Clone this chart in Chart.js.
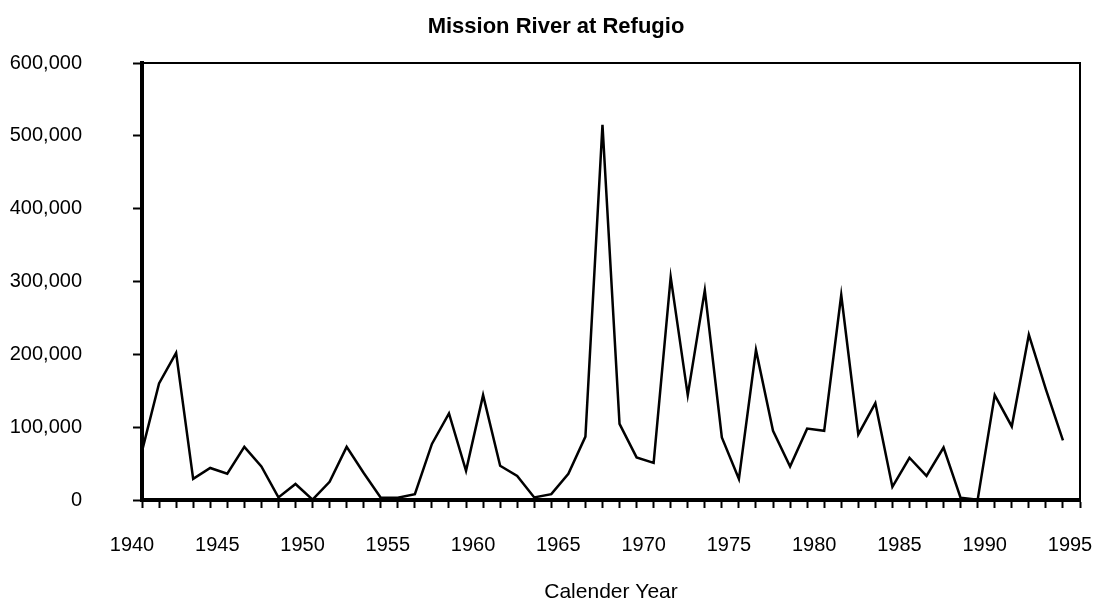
<!DOCTYPE html>
<html>
<head>
<meta charset="utf-8">
<script src="https://cdn.jsdelivr.net/npm/chart.js@4/dist/chart.umd.min.js"></script>
<style>
  html, body { margin: 0; padding: 0; background: #ffffff; }
  #wrap { width: 1100px; height: 609px; }
</style>
</head>
<body>
<div id="wrap"><canvas id="c" width="1100" height="609"></canvas></div>
<script>
// ---- data ----
const chartTitle = 'Mission River at Refugio';
const xAxisTitle = 'Calender Year';
const years = [
  1940, 1941, 1942, 1943, 1944, 1945, 1946, 1947, 1948, 1949,
  1950, 1951, 1952, 1953, 1954, 1955, 1956, 1957, 1958, 1959,
  1960, 1961, 1962, 1963, 1964, 1965, 1966, 1967, 1968, 1969,
  1970, 1971, 1972, 1973, 1974, 1975, 1976, 1977, 1978, 1979,
  1980, 1981, 1982, 1983, 1984, 1985, 1986, 1987, 1988, 1989,
  1990, 1991, 1992, 1993, 1994
];
const flows = [
  67000, 160000, 202000, 29000, 44000, 36000, 73000, 46000, 3500, 22000,
  500, 25000, 73000, 37000, 3000, 3000, 8000, 77000, 119000, 40000,
  144000, 47000, 33000, 3500, 8000, 36000, 87000, 515000, 104500, 58500,
  51000, 306000, 144000, 288000, 86000, 29000, 206000, 95000, 46000, 98000,
  95000, 281500, 90000, 133000, 18000, 58000, 33000, 72000, 3000, 500,
  144000, 101000, 227000, 152000, 82000
];
const xMin = 1940;
const xMax = 1995;
const xLabelEvery = 5;
const yMin = 0;
const yMax = 600000;
const yStep = 100000;

// ---- chart ----
const points = years.map((yr, i) => ({ x: yr, y: flows[i] }));
const FONT = "'Liberation Sans', Arial, sans-serif";

const frame = {
  id: 'frame',
  afterDraw(chart) {
    const { ctx, chartArea: a } = chart;
    ctx.save();
    ctx.strokeStyle = '#000';
    ctx.lineWidth = 2;
    ctx.beginPath();
    ctx.moveTo(a.left, a.top);
    ctx.lineTo(a.right, a.top);
    ctx.lineTo(a.right, a.bottom);
    ctx.stroke();
    ctx.restore();
  }
};

new Chart(document.getElementById('c'), {
  type: 'line',
  data: {
    datasets: [{
      data: points,
      borderColor: '#000',
      borderWidth: 2.5,
      pointRadius: 0,
      tension: 0,
      fill: false
    }]
  },
  options: {
    responsive: false,
    animation: false,
    devicePixelRatio: 1,
    layout: { padding: { left: 0, right: -12, top: 0, bottom: 0 } },
    plugins: {
      legend: { display: false },
      tooltip: { enabled: false },
      title: {
        display: true,
        text: chartTitle,
        color: '#000',
        font: { family: FONT, size: 22, weight: 'bold', lineHeight: 1.2 },
        padding: { top: 6, bottom: 23 }
      }
    },
    scales: {
      x: {
        type: 'linear',
        min: xMin,
        max: xMax,
        afterFit(s) { s.height = 109; s.paddingLeft = 0; s.paddingRight = 20; },
        border: { display: true, color: '#000', width: 4 },
        grid: { drawOnChartArea: false, drawTicks: true, tickLength: 8, tickWidth: 2, tickColor: '#000' },
        ticks: {
          stepSize: 1,
          autoSkip: false,
          maxRotation: 0,
          minRotation: 0,
          padding: 25,
          labelOffset: -10,
          color: '#000',
          font: { family: FONT, size: 20 },
          callback: (v) => (v % xLabelEvery === 0 ? String(v) : '')
        },
        title: {
          display: true,
          text: xAxisTitle,
          color: '#000',
          font: { family: FONT, size: 21 },
          padding: { top: 0, bottom: 4 }
        }
      },
      y: {
        min: yMin,
        max: yMax,
        afterFit(s) { s.width = 142; },
        border: { display: true, color: '#000', width: 4 },
        grid: { drawOnChartArea: false, drawTicks: true, tickLength: 9, tickWidth: 2, tickColor: '#000' },
        ticks: {
          stepSize: yStep,
          padding: 51,
          color: '#000',
          font: { family: FONT, size: 20 },
          callback: (v) => Number(v).toLocaleString('en-US')
        }
      }
    }
  },
  plugins: [frame]
});
</script>
</body>
</html>
